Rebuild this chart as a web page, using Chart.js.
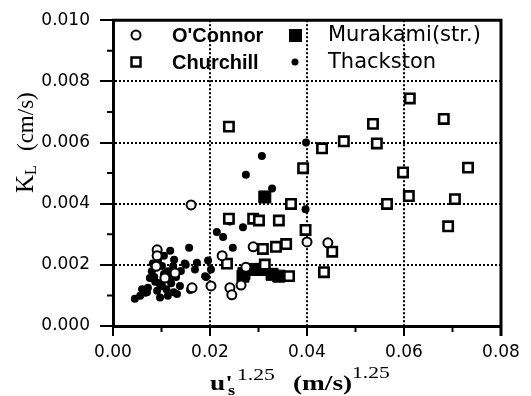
<!DOCTYPE html>
<html>
<head>
<meta charset="utf-8">
<script src="https://cdn.jsdelivr.net/npm/chart.js@4.4.0/dist/chart.umd.min.js"></script>
<style>
	html, body { margin: 0; padding: 0; background: #fff; }
	#wrap { width: 531px; height: 396px; }
</style>
</head>
<body>
<div id="wrap"><canvas id="kl-chart" width="531" height="396"></canvas></div>
<script>
// axis ranges
const xMin = 0, xMax = 0.08, xStep = 0.02;
const yMin = 0, yMax = 0.010, yStep = 0.002;

// O'Connor (open circles)
const oconnorX = [0.0161, 0.0091, 0.0091, 0.0089, 0.0107, 0.0128, 0.0163, 0.0202, 0.0225, 0.0274, 0.0241, 0.0245, 0.0264, 0.0289, 0.0400, 0.0443];
const oconnorY = [0.00396, 0.00249, 0.00230, 0.00195, 0.00157, 0.00173, 0.00125, 0.00131, 0.00230, 0.00192, 0.00125, 0.00102, 0.00134, 0.00259, 0.00275, 0.00272];

// Churchill (open squares)
const churchillX = [0.0239, 0.0612, 0.0682, 0.0536, 0.0476, 0.0431, 0.0544, 0.0392, 0.0598, 0.0732, 0.0610, 0.0705, 0.0565, 0.0367, 0.0691, 0.0397, 0.0452, 0.0435, 0.0239, 0.0289, 0.0301, 0.0342, 0.0357, 0.0336, 0.0309, 0.0235, 0.0313, 0.0363];
const churchillY = [0.00652, 0.00744, 0.00677, 0.00661, 0.00604, 0.00581, 0.00597, 0.00516, 0.00502, 0.00518, 0.00425, 0.00415, 0.00399, 0.00399, 0.00326, 0.00314, 0.00243, 0.00176, 0.00351, 0.00351, 0.00345, 0.00345, 0.00268, 0.00259, 0.00252, 0.00204, 0.00201, 0.00163];

// Murakami (str.) (filled squares)
const murakamiX = [0.0313, 0.0268, 0.0270, 0.0289, 0.0307, 0.0328, 0.0342];
const murakamiY = [0.00422, 0.00163, 0.00172, 0.00185, 0.00185, 0.00169, 0.00163];

// Thackston (small dots)
const thackstonX = [0.0307, 0.0274, 0.0328, 0.0398, 0.0397, 0.0268, 0.0214, 0.0227, 0.0247, 0.0241, 0.0196, 0.0202, 0.0192, 0.0157, 0.0118, 0.0159, 0.0148, 0.0173, 0.0190, 0.0045, 0.0056, 0.0066, 0.0072, 0.0076, 0.0091, 0.0101, 0.0107, 0.0118, 0.0124, 0.0126, 0.0113, 0.0080, 0.0082, 0.0093, 0.0132, 0.0113, 0.0097, 0.0138, 0.0169, 0.0101, 0.0087, 0.0060, 0.0105, 0.0085, 0.0095, 0.0110, 0.0120, 0.0130, 0.0140, 0.0150, 0.0125, 0.0105, 0.0070];
const thackstonY = [0.00556, 0.00495, 0.00450, 0.00600, 0.00382, 0.00323, 0.00307, 0.00291, 0.00256, 0.00342, 0.00214, 0.00185, 0.00160, 0.00256, 0.00246, 0.00118, 0.00204, 0.00207, 0.00163, 0.00089, 0.00099, 0.00109, 0.00125, 0.00157, 0.00115, 0.00131, 0.00153, 0.00163, 0.00195, 0.00217, 0.00179, 0.00179, 0.00204, 0.00217, 0.00105, 0.00099, 0.00093, 0.00131, 0.00185, 0.00196, 0.00145, 0.00120, 0.00230, 0.00160, 0.00140, 0.00120, 0.00140, 0.00160, 0.00180, 0.00200, 0.00110, 0.00170, 0.00110];

function toPoints(xs, ys) {
	return xs.map((x, i) => ({ x: x, y: ys[i] }));
}

function drawText(ctx, text, x, y, font, sx) {
	ctx.save();
	ctx.translate(x, y);
	ctx.scale(sx || 1, 1);
	ctx.font = font;
	ctx.fillText(text, 0, 0);
	ctx.restore();
}

// solid frame on top/right + minor ticks
const framePlugin = {
	id: 'frame',
	afterDraw(chart) {
		const { ctx, chartArea } = chart;
		const xs = chart.scales.x;
		const ys = chart.scales.y;
		ctx.save();
		ctx.strokeStyle = '#000';
		ctx.lineWidth = 3;
		ctx.beginPath();
		ctx.moveTo(chartArea.left - 1, chartArea.top);
		ctx.lineTo(chartArea.right, chartArea.top);
		ctx.lineTo(chartArea.right, chartArea.bottom + 10);
		ctx.stroke();

		ctx.lineWidth = 2;
		ctx.beginPath();
		for (let v = 0.001; v < yMax; v += 0.002) {
			const py = ys.getPixelForValue(v);
			ctx.moveTo(chartArea.left - 6, py);
			ctx.lineTo(chartArea.left, py);
		}
		for (let v = 0.01; v < xMax; v += 0.02) {
			const px = xs.getPixelForValue(v);
			ctx.moveTo(px, chartArea.bottom);
			ctx.lineTo(px, chartArea.bottom + 6);
		}
		ctx.stroke();
		ctx.restore();
	}
};

// legend drawn in the top band of the plot
const legendPlugin = {
	id: 'paperLegend',
	afterDraw(chart) {
		const ctx = chart.ctx;
		ctx.save();
		ctx.fillStyle = '#000';
		ctx.strokeStyle = '#000';

		ctx.lineWidth = 2;
		ctx.beginPath();
		ctx.arc(136, 35, 4.5, 0, Math.PI * 2);
		ctx.stroke();

		ctx.lineWidth = 2.5;
		ctx.strokeRect(131.5, 57.5, 9, 9);

		ctx.fillRect(289, 29, 13, 13);

		ctx.beginPath();
		ctx.arc(295, 62, 3.5, 0, Math.PI * 2);
		ctx.fill();

		ctx.textBaseline = 'middle';
		ctx.textAlign = 'left';
		ctx.font = 'bold 20px "Liberation Sans", Arial, sans-serif';
		ctx.fillText("O'Connor", 172, 36);
		ctx.fillText('Churchill', 172, 63);
		ctx.font = '21px "DejaVu Sans", sans-serif';
		ctx.fillText('Murakami(str.)', 328, 36);
		ctx.fillText('Thackston', 328, 63);
		ctx.restore();
	}
};

// axis titles with sub/superscripts
const titlePlugin = {
	id: 'axisTitles',
	afterDraw(chart) {
		const ctx = chart.ctx;
		ctx.save();
		ctx.fillStyle = '#000';
		ctx.textBaseline = 'alphabetic';
		ctx.textAlign = 'left';

		const serifB = '"Liberation Serif", "Times New Roman", serif';
		drawText(ctx, "u'", 210, 390, 'bold 21px ' + serifB, 1.3);
		drawText(ctx, 's', 228, 395, 'bold 14px ' + serifB, 1.3);
		drawText(ctx, '1.25', 237, 380, '16px ' + serifB, 1.35);
		drawText(ctx, '(m/s)', 293, 390, 'bold 21px ' + serifB, 1.3);
		drawText(ctx, '1.25', 352, 378, '16px ' + serifB, 1.35);

		ctx.translate(33, 193);
		ctx.rotate(-Math.PI / 2);
		ctx.font = '25px ' + serifB;
		ctx.fillText('K', 0, 0);
		ctx.font = '16px ' + serifB;
		ctx.fillText('L', 18, 3);
		ctx.font = '23px ' + serifB;
		ctx.fillText('(cm/s)', 42, 0);
		ctx.restore();
	}
};

const tickFont = { family: '"DejaVu Sans", sans-serif', size: 17 };

new Chart(document.getElementById('kl-chart'), {
	type: 'scatter',
	data: {
		datasets: [
			{
				label: "O'Connor",
				data: toPoints(oconnorX, oconnorY),
				pointStyle: 'circle',
				pointRadius: 4.5,
				pointBorderWidth: 2,
				pointBackgroundColor: '#fff',
				pointBorderColor: '#000'
			},
			{
				label: 'Churchill',
				data: toPoints(churchillX, churchillY),
				pointStyle: 'rect',
				pointRadius: 6.6,
				pointBorderWidth: 2.6,
				pointBackgroundColor: '#fff',
				pointBorderColor: '#000'
			},
			{
				label: 'Murakami(str.)',
				data: toPoints(murakamiX, murakamiY),
				pointStyle: 'rect',
				pointRadius: 8.5,
				pointBorderWidth: 1,
				pointBackgroundColor: '#000',
				pointBorderColor: '#000'
			},
			{
				label: 'Thackston',
				data: toPoints(thackstonX, thackstonY),
				pointStyle: 'circle',
				pointRadius: 4,
				pointBorderWidth: 0,
				pointBackgroundColor: '#000',
				pointBorderColor: '#000'
			}
		]
	},
	options: {
		responsive: false,
		animation: false,
		layout: { padding: { top: 13, right: 30, left: 0, bottom: 0 } },
		plugins: {
			legend: { display: false },
			tooltip: { enabled: false },
			title: { display: false }
		},
		scales: {
			x: {
				type: 'linear',
				min: xMin,
				max: xMax,
				afterFit(scale) { scale.height = 70; },
				ticks: {
					stepSize: xStep,
					color: '#000',
					font: tickFont,
					padding: 6,
					maxRotation: 0,
					callback: (v) => v.toFixed(2)
				},
				grid: {
					color: '#000',
					lineWidth: 2,
					tickLength: 10,
					tickColor: '#000',
					tickWidth: 2
				},
				border: { display: true, color: '#000', width: 3, dash: [2, 2] }
			},
			y: {
				type: 'linear',
				min: yMin,
				max: yMax,
				afterFit(scale) { scale.width = 113; },
				ticks: {
					stepSize: yStep,
					color: '#000',
					font: tickFont,
					padding: 10,
					callback: (v) => v.toFixed(3)
				},
				grid: {
					color: '#000',
					lineWidth: 2,
					tickLength: 13,
					tickColor: '#000',
					tickWidth: 2
				},
				border: { display: true, color: '#000', width: 3, dash: [2, 2] }
			}
		}
	},
	plugins: [framePlugin, legendPlugin, titlePlugin]
});
</script>
</body>
</html>
